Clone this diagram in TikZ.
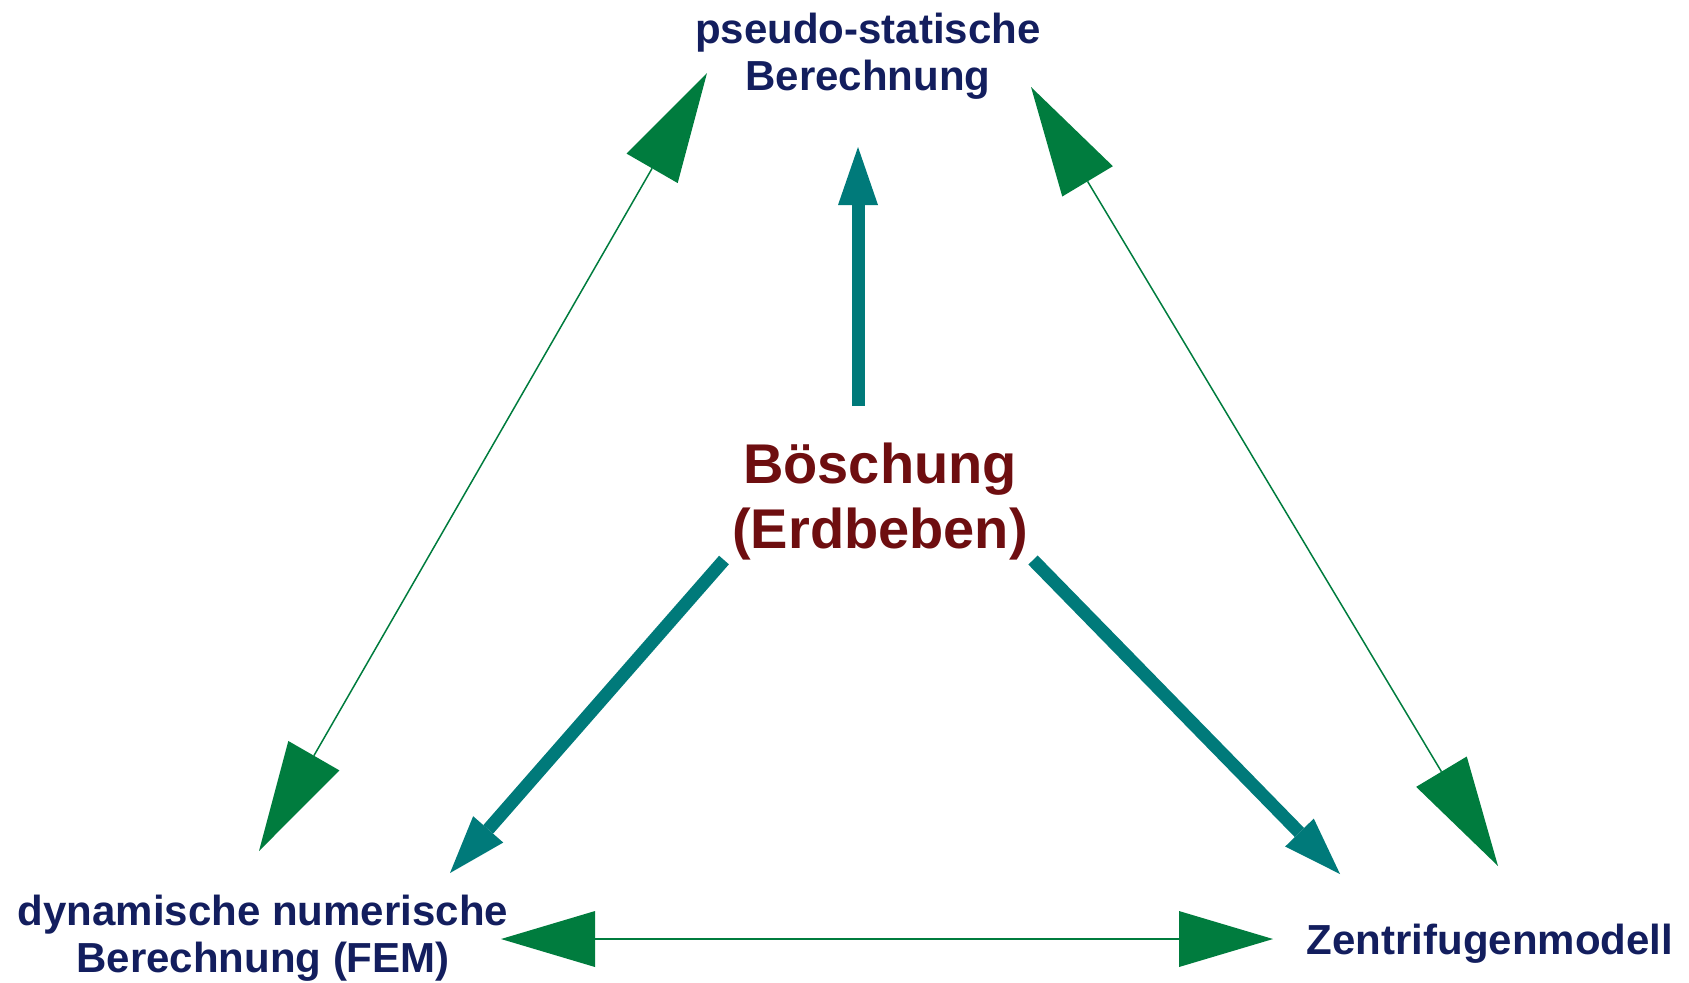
\documentclass[tikz,border=0pt]{standalone}
\usepackage{fontspec}
\setmainfont{Liberation Sans}
\usetikzlibrary{arrows.meta}
\definecolor{navy}{RGB}{19,30,94}
\definecolor{darkred}{RGB}{110,14,16}
\definecolor{lgreen}{RGB}{0,124,62}
\definecolor{lteal}{RGB}{0,122,122}
\begin{document}
\begin{tikzpicture}[x=0.5pt,y=-0.5pt,
  lbl/.style={font=\bfseries\fontsize{21}{23.5}\selectfont, text=navy, align=center, inner sep=0pt, anchor=base},
  hub/.style={font=\bfseries\fontsize{28}{32.5}\selectfont, text=darkred, align=center, inner sep=0pt, anchor=base},
  biglink/.style={draw=lgreen, line width=0.75pt,
    {Triangle[length=55pt,width=29.5pt,line width=0pt]}-{Triangle[length=55pt,width=29.5pt,line width=0pt]}},
  flatlink/.style={draw=lgreen, line width=0.75pt,
    {Triangle[length=47pt,width=28pt,line width=0pt]}-{Triangle[length=47pt,width=28pt,line width=0pt]}},
  spoke/.style={draw=lteal, line width=6.5pt,
    -{Triangle[length=29pt,width=20pt,line width=0pt]}}
]
\useasboundingbox (0,0) rectangle (1689,982);

% base anchor = baseline of the last line
\node[lbl] (top) at (868,90) {pseudo-statische\\Berechnung};
\node[lbl] (fem) at (263,972) {dynamische numerische\\Berechnung (FEM)};
\node[lbl] (zen) at (1490,954) {Zentrifugenmodell};
\node[hub] (hub) at (880,548) {Böschung\\(Erdbeben)};

% endpoints of connectors
\coordinate (tl) at (707,73);
\coordinate (lb) at (259,851);
\coordinate (tr) at (1031,87);
\coordinate (rb) at (1498,866);
\coordinate (bl) at (501,939);
\coordinate (br) at (1273,939);
\coordinate (hubN) at (858,406);
\coordinate (hubW) at (724,560);
\coordinate (hubE) at (1033,560);
\coordinate (topS) at (858,147);
\coordinate (femNE) at (450,873);
\coordinate (zenNW) at (1340,874);

\draw[biglink] (tl) -- (lb);
\draw[biglink] (tr) -- (rb);
\draw[flatlink] (bl) -- (br);

\draw[spoke] (hubN) -- (topS);
\draw[spoke] (hubW) -- (femNE);
\draw[spoke] (hubE) -- (zenNW);
\end{tikzpicture}
\end{document}
